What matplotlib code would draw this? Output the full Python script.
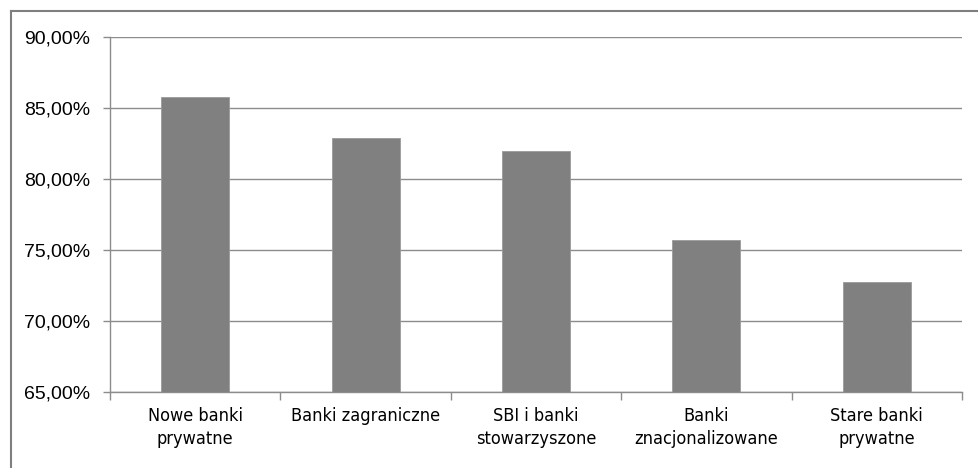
import matplotlib.pyplot as plt
import numpy as np
from matplotlib import font_manager
from matplotlib.lines import Line2D
from matplotlib.ticker import FuncFormatter

# Bank groups and their share values (percent)
categories = ['Nowe banki\nprywatne', 'Banki zagraniczne', 'SBI i banki\nstowarzyszone',
              'Banki\nznacjonalizowane', 'Stare banki\nprywatne']
values = [85.78, 82.86, 82.0, 75.7, 72.76]
y_ticks = [65, 70, 75, 80, 85, 90]

# pick a condensed face for the category labels if one is installed
faces = {(f.name, f.stretch) for f in font_manager.fontManager.ttflist}
names = {n for n, s in faces}
if 'Liberation Sans Narrow' in names:
    x_font = dict(family='Liberation Sans Narrow', fontsize=15)
elif ('DejaVu Sans', 'condensed') in faces or ('DejaVu Sans', 'semi-condensed') in faces:
    x_font = dict(family='DejaVu Sans', fontstretch='condensed', fontsize=13)
else:
    x_font = dict(family='Liberation Sans', fontsize=12.5)

W, H = 979, 468
fig = plt.figure(figsize=(W / 100, H / 100), dpi=100)
ax = fig.add_axes([110 / W, (H - 392) / H, (962 - 110) / W, (392 - 37) / H])

x = np.arange(len(categories))
ax.bar(x, values, width=0.4, color='#808080', edgecolor='#9a9a9a', linewidth=0.6, zorder=3)

ax.set_ylim(65, 90)
ax.set_xlim(-0.5, len(categories) - 0.5)
ax.set_yticks(y_ticks)
ax.yaxis.set_major_formatter(FuncFormatter(lambda v, p: '{:.2f}%'.format(v).replace('.', ',')))
ax.grid(axis='y', color='#8c8c8c', linewidth=1.0, zorder=0)

ax.set_xticks(x)
ax.set_xticklabels(categories, linespacing=1.35, **x_font)
ax.set_xticks(np.arange(-0.5, len(categories)), minor=True)
ax.tick_params(axis='x', which='major', length=0, pad=11)
ax.tick_params(axis='x', which='minor', length=6, color='#8c8c8c', width=1)
ax.tick_params(axis='y', length=5, color='#8c8c8c', width=1, pad=9)
for lab in ax.get_yticklabels():
    lab.set_family(['Liberation Sans', 'DejaVu Sans'])
    lab.set_fontsize(14)

for s in ['top', 'right']:
    ax.spines[s].set_visible(False)
for s in ['left', 'bottom']:
    ax.spines[s].set_color('#8c8c8c')
    ax.spines[s].set_linewidth(1.0)

# outer chart frame (only top and left edges are visible in the crop)
fig.add_artist(Line2D([10.5 / W, 1], [1 - 10.5 / H, 1 - 10.5 / H], color='#7f7f7f', lw=1.5,
                      transform=fig.transFigure))
fig.add_artist(Line2D([10.5 / W, 10.5 / W], [0, 1 - 10.5 / H], color='#7f7f7f', lw=1.5,
                      transform=fig.transFigure))

plt.savefig('out.png', dpi=100)
